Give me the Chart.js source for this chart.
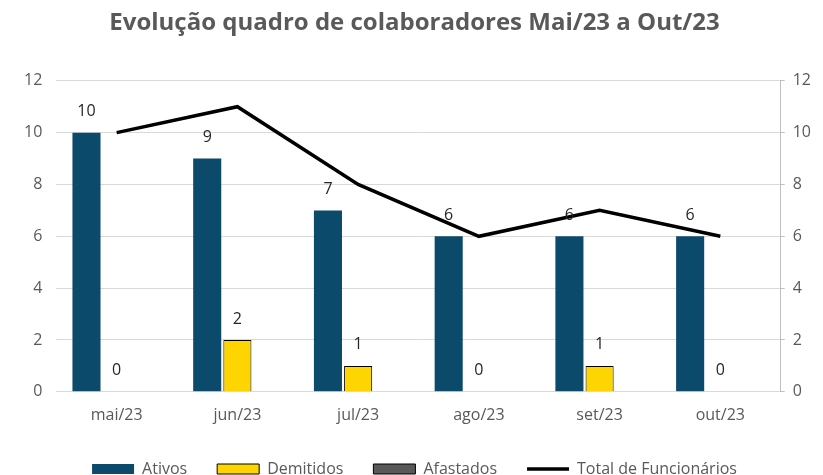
<!DOCTYPE html>
<html>
<head>
<meta charset="utf-8">
<script src="https://cdn.jsdelivr.net/npm/chart.js@4"></script>
<style>
  html, body { margin: 0; padding: 0; background: #fff; }
  #wrap { width: 823px; height: 475px; position: relative; }
</style>
</head>
<body>
<div id="wrap"><canvas id="staffChart"></canvas></div>
<script>
// ===== Data =====
const months = ["mai/23", "jun/23", "jul/23", "ago/23", "set/23", "out/23"];
const ativos = [10, 9, 7, 6, 6, 6];
const demitidos = [0, 2, 1, 0, 1, 0];
const afastados = [0, 0, 0, 0, 0, 0];
const totalFuncionarios = [10, 11, 8, 6, 7, 6];
const yTicks = [0, 2, 4, 6, 8, 10, 12];

const FONT = "'Open Sans', Lato, sans-serif";
const GREY = "#595959";

// value labels above the bars (Ativos and Demitidos only)
const barLabels = {
  id: "barLabels",
  afterDatasetsDraw(chart) {
    const ctx = chart.ctx;
    ctx.save();
    ctx.font = "16px " + FONT;
    ctx.fillStyle = "#262626";
    ctx.textAlign = "center";
    ctx.textBaseline = "middle";
    [0, 1].forEach(i => {
      const meta = chart.getDatasetMeta(i);
      const values = chart.data.datasets[i].data;
      meta.data.forEach((bar, j) => {
        ctx.fillText(String(values[j]), bar.x, bar.y - 21);
      });
    });
    ctx.restore();
  }
};

const ctx = document.getElementById("staffChart");
new Chart(ctx.getContext("2d"), {
  type: "bar",
  data: {
    labels: months,
    datasets: [
      {
        label: "Ativos",
        data: ativos,
        backgroundColor: "#0c4a6b",
        borderColor: "#0c4a6b",
        borderWidth: 0,
        categoryPercentage: 0.75,
        barPercentage: 0.93,
        order: 2
      },
      {
        label: "Demitidos",
        data: demitidos,
        backgroundColor: "#ffd500",
        borderColor: "#000",
        borderWidth: 1,
        categoryPercentage: 0.75,
        barPercentage: 0.93,
        order: 2
      },
      {
        label: "Afastados",
        data: afastados,
        backgroundColor: "#595959",
        borderColor: "#000",
        borderWidth: 1,
        categoryPercentage: 0.75,
        barPercentage: 0.93,
        order: 2
      },
      {
        type: "line",
        label: "Total de Funcionários",
        data: totalFuncionarios,
        yAxisID: "y2",
        borderColor: "#000",
        backgroundColor: "#000",
        borderWidth: 3.5,
        pointRadius: 0,
        tension: 0,
        order: 1
      }
    ]
  },
  options: {
    responsive: true,
    maintainAspectRatio: false,
    animation: false,
    layout: { padding: { left: 10, right: 4, top: 0, bottom: -12 } },
    plugins: {
      title: {
        display: true,
        text: "Evolução quadro de colaboradores Mai/23 a Out/23",
        color: GREY,
        font: { family: FONT, size: 24, weight: "bold" },
        padding: { top: 9, bottom: 43 }
      },
      legend: {
        position: "bottom",
        labels: {
          color: GREY,
          font: { family: FONT, size: 16 },
          usePointStyle: true,
          pointStyleWidth: 42,
          boxHeight: 10,
          padding: 30,
          sort: (a, b) => a.datasetIndex - b.datasetIndex,
          generateLabels(chart) {
            const items = Chart.defaults.plugins.legend.labels.generateLabels(chart);
            items.forEach(it => {
              const i = it.datasetIndex;
              it.pointStyle = i === 3 ? "line" : "rect";
              if (i === 0) it.lineWidth = 0;
              if (i === 3) it.lineWidth = 3.5;
            });
            return items;
          }
        }
      },
      tooltip: { enabled: false }
    },
    scales: {
      x: {
        grid: { display: false },
        border: { color: "#d9d9d9" },
        ticks: { color: GREY, font: { family: FONT, size: 16 }, padding: 6 }
      },
      y: {
        min: 0,
        max: 12,
        afterBuildTicks: axis => { axis.ticks = yTicks.map(v => ({ value: v })); },
        grid: { color: "#d9d9d9", drawTicks: false },
        border: { display: false },
        ticks: { color: GREY, font: { family: FONT, size: 16 }, padding: 14 }
      },
      y2: {
        position: "right",
        min: 0,
        max: 12,
        afterBuildTicks: axis => { axis.ticks = yTicks.map(v => ({ value: v })); },
        grid: { drawOnChartArea: false, color: "#bfbfbf", tickLength: 4 },
        border: { color: "#bfbfbf" },
        ticks: { color: GREY, font: { family: FONT, size: 16 }, padding: 8 }
      }
    }
  },
  plugins: [barLabels]
});
</script>
</body>
</html>
